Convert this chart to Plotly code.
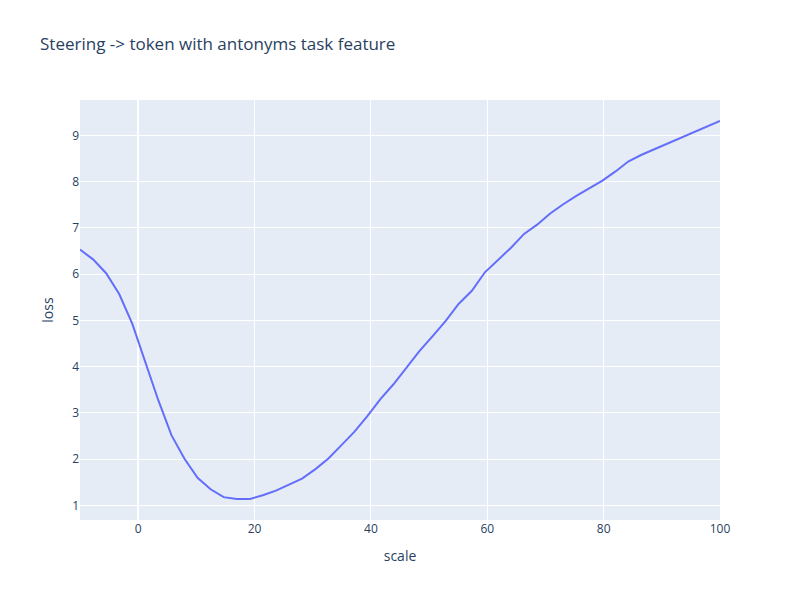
import plotly.graph_objects as go

# steering scale values (50 evenly spaced steps from -10 to 100)
scale = [
    -10.0, -7.755, -5.510, -3.265, -1.020, 1.224, 3.469, 5.714, 7.959, 10.204,
    12.449, 14.694, 16.939, 19.184, 21.429, 23.673, 25.918, 28.163, 30.408, 32.653,
    34.898, 37.143, 39.388, 41.633, 43.878, 46.122, 48.367, 50.612, 52.857, 55.102,
    57.347, 59.592, 61.837, 64.082, 66.327, 68.571, 70.816, 73.061, 75.306, 77.551,
    79.796, 82.041, 84.286, 86.531, 88.776, 91.020, 93.265, 95.510, 97.755, 100.0,
]

# loss
loss = [
    6.53, 6.32, 6.02, 5.57, 4.93, 4.10, 3.27, 2.52, 2.01, 1.60,
    1.35, 1.18, 1.14, 1.14, 1.22, 1.32, 1.45, 1.58, 1.78, 2.01,
    2.30, 2.59, 2.93, 3.30, 3.62, 3.99, 4.34, 4.66, 4.99, 5.36,
    5.64, 6.04, 6.30, 6.57, 6.87, 7.07, 7.31, 7.51, 7.69, 7.86,
    8.02, 8.22, 8.44, 8.58, 8.70, 8.82, 8.94, 9.07, 9.19, 9.31,
]

fig = go.Figure()
fig.add_trace(go.Scatter(x=scale, y=loss, mode='lines', line=dict(color='#636efa')))

# page body has an 8px margin, so trim the figure to line up with the reference
fig.update_layout(
    title=dict(text='Steering -> token with antonyms task feature',
               x=32 / 792, xanchor='left', y=1 - 36 / 592, yanchor='middle'),
    xaxis_title='scale',
    yaxis_title='loss',
    width=792,
    height=592,
    margin=dict(l=72, r=80, t=92, b=80),
    showlegend=False,
)

fig.write_html("out.html")
